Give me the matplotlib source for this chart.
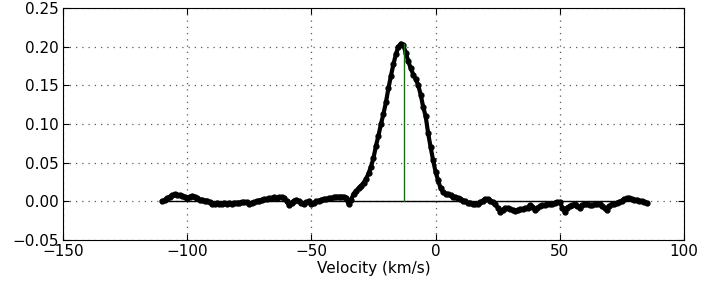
import numpy as np
import matplotlib
matplotlib.use('Agg')
import matplotlib.pyplot as plt

# spectrum channels (km/s) and line intensity
velocity = np.arange(-110, 86, 1)
intensity = [
    0.000, 0.002, 0.004, 0.006, 0.008, 0.009, 0.008, 0.008, 0.007, 0.006,    # -110 .. -101
    0.004, 0.006, 0.007, 0.006, 0.004, 0.002, 0.002, 0.001, 0.001, -0.001,   # -100 .. -91
    -0.003, -0.003, -0.002, -0.003, -0.003, -0.002, -0.003, -0.002, -0.003, -0.002,  # -90 .. -81
    -0.002, -0.002, -0.001, -0.001, -0.001, -0.003, -0.002, -0.001, 0.000, 0.001,    # -80 .. -71
    0.002, 0.003, 0.003, 0.004, 0.004, 0.005, 0.004, 0.005, 0.005, 0.004,    # -70 .. -61
    0.000, -0.005, -0.002, 0.001, 0.002, 0.000, -0.002, -0.004, -0.001, 0.000,  # -60 .. -51
    -0.004, -0.002, 0.000, 0.001, 0.002, 0.003, 0.003, 0.004, 0.004, 0.005,  # -50 .. -41
    0.006, 0.006, 0.006, 0.006, 0.004, -0.004, 0.002, 0.010, 0.013, 0.017,   # -40 .. -31
    0.020, 0.024, 0.029, 0.036, 0.045, 0.056, 0.072, 0.085, 0.100, 0.113,    # -30 .. -21
    0.128, 0.146, 0.162, 0.177, 0.190, 0.200, 0.204, 0.202, 0.192, 0.181,    # -20 .. -11
    0.172, 0.164, 0.158, 0.150, 0.138, 0.122, 0.110, 0.088, 0.070, 0.053,    # -10 .. -1
    0.038, 0.027, 0.017, 0.012, 0.010, 0.009, 0.008, 0.006, 0.005, 0.004,    # 0 .. 9
    0.003, 0.001, 0.000, -0.002, -0.002, -0.003, -0.003, -0.003, -0.001, 0.001,  # 10 .. 19
    0.003, 0.003, 0.001, -0.001, -0.004, -0.008, -0.014, -0.011, -0.009, -0.009,  # 20 .. 29
    -0.010, -0.011, -0.012, -0.011, -0.010, -0.010, -0.009, -0.008, -0.005, -0.007,  # 30 .. 39
    -0.011, -0.009, -0.006, -0.005, -0.005, -0.004, -0.003, -0.003, -0.002, -0.001,  # 40 .. 49
    -0.001, -0.008, -0.014, -0.008, -0.006, -0.005, -0.004, -0.006, -0.008, -0.005,  # 50 .. 59
    -0.003, -0.003, -0.005, -0.005, -0.004, -0.003, -0.003, -0.006, -0.009, -0.011,  # 60 .. 69
    -0.006, -0.004, -0.003, -0.002, -0.001, 0.001, 0.003, 0.004, 0.004, 0.003,  # 70 .. 79
    0.002, 0.002, 0.001, 0.000, -0.001, -0.002,                               # 80 .. 85
]

# line centre marker
peak_velocity = -12.7
peak_height = 0.203

plt.rcParams['font.size'] = 11
plt.rcParams['xtick.direction'] = 'in'
plt.rcParams['ytick.direction'] = 'in'

fig = plt.figure(figsize=(7.2, 2.88), dpi=100)
ax = fig.add_axes([0.0875, 0.1667, 0.8625, 0.8055])

ax.plot(velocity, intensity, 'k.-', ms=7, lw=3)
ax.plot([velocity[0], velocity[-1]], [0, 0], 'k-', lw=1)
ax.plot([peak_velocity, peak_velocity], [0, peak_height], 'g-', lw=1)

ax.set_xlim(-150, 100)
ax.set_ylim(-0.05, 0.25)
ax.set_xticks(np.arange(-150, 101, 50))
ax.set_yticks(np.arange(-0.05, 0.251, 0.05))
ax.grid(True, color='0.35', linestyle=(0, (1, 4)), linewidth=0.9)
ax.tick_params(top=True, right=True, length=4, pad=3)
ax.set_xlabel('Velocity (km/s)', labelpad=1)

fig.savefig('out.png', dpi=100)
